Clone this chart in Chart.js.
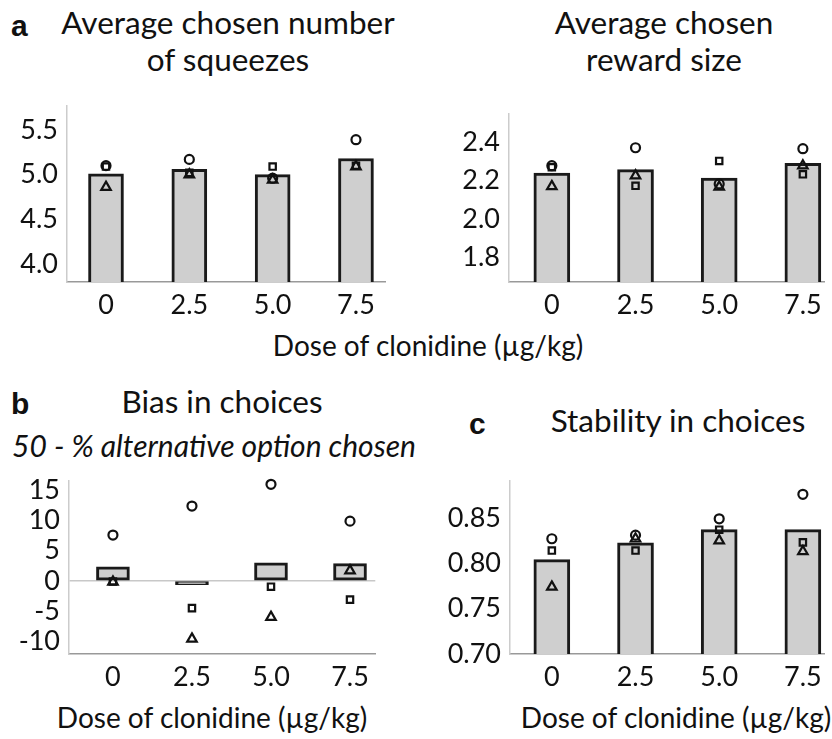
<!DOCTYPE html>
<html>
<head>
<meta charset="utf-8">
<script src="https://cdn.jsdelivr.net/npm/chart.js@4.4.1/dist/chart.umd.min.js"></script>
<style>
  body { margin: 0; background: #fff; }
  #fig { position: relative; width: 832px; height: 739px; overflow: hidden; font-family: Lato, sans-serif; color: #111; }
  canvas { position: absolute; }
  .t { position: absolute; white-space: nowrap; transform: translateX(-50%); text-align: center; font-size: 31.5px; line-height: 37px; }
  .lab { position: absolute; font-size: 28px; line-height: 30px; white-space: nowrap; transform: translateX(-50%); }
  .letter { position: absolute; font-family: 'Liberation Sans', Arial, sans-serif; font-weight: bold; font-size: 30px; line-height: 30px; }
</style>
</head>
<body>
<div id="fig">
  <canvas id="squeeze" width="393" height="229" style="left:0;top:98px"></canvas>
  <canvas id="reward" width="412" height="221" style="left:420px;top:106px"></canvas>
  <canvas id="bias" width="383" height="226" style="left:0;top:473px"></canvas>
  <canvas id="stability" width="412" height="226" style="left:420px;top:473px"></canvas>

  <div class="letter" style="left:11px;top:11px">a</div>
  <div class="t" style="left:228px;top:4px">Average chosen number<br>of squeezes</div>
  <div class="t" style="left:664px;top:4px">Average chosen<br>reward size</div>
  <div class="lab" style="left:428px;top:330px">Dose of clonidine (µg/kg)</div>

  <div class="letter" style="left:11px;top:389px">b</div>
  <div class="t" style="left:222px;top:383px">Bias in choices</div>
  <div class="t" style="left:214px;top:427px;font-style:italic;font-size:30px">50 - % alternative option chosen</div>
  <div class="lab" style="left:212px;top:702px">Dose of clonidine (µg/kg)</div>

  <div class="letter" style="left:469px;top:409px">c</div>
  <div class="t" style="left:678px;top:402px">Stability in choices</div>
  <div class="lab" style="left:676px;top:702px">Dose of clonidine (µg/kg)</div>
</div>

<script>
// doses on the x axis
const doses = [0, 2.5, 5.0, 7.5];
const doseLabels = ['0', '2.5', '5.0', '7.5'];

// a: average chosen number of squeezes (bar = mean, markers = three monkeys)
const squeezeMean = [5.01, 5.06, 5.00, 5.18];
const squeezeCircle = [5.10, 5.17, 4.96, 5.39];
const squeezeSquare = [5.09, 5.02, 5.09, 5.10];
const squeezeTriangle = [4.86, 5.00, 4.94, 5.09];
const squeezeTicks = [4.0, 4.5, 5.0, 5.5];

// a: average chosen reward size
const rewardMean = [2.24, 2.258, 2.213, 2.29];
const rewardCircle = [2.278, 2.372, 2.183, 2.367];
const rewardSquare = [2.27, 2.173, 2.303, 2.233];
const rewardTriangle = [2.17, 2.226, 2.167, 2.278];
const rewardTicks = [1.8, 2.0, 2.2, 2.4];

// b: bias in choices
const biasMean = [2.33, -0.6, 3.0, 2.86];
const biasCircle = [7.6, 12.4, 16.0, 9.9];
const biasSquare = [-0.1, -4.5, -0.95, -3.1];
const biasTriangle = [-0.15, -9.6, -6.0, 1.7];
const biasTicks = [-10, -5, 0, 5, 10, 15];

// c: stability in choices
const stabilityMean = [0.804, 0.8225, 0.837, 0.837];
const stabilityCircle = [0.827, 0.831, 0.849, 0.876];
const stabilitySquare = [0.814, 0.814, 0.837, 0.823];
const stabilityTriangle = [0.774, 0.827, 0.825, 0.813];
const stabilityTicks = [0.70, 0.75, 0.80, 0.85];

const tickFont = { family: 'Lato', size: 27 };

// turn one series into {x, y} points at the doses
function points(values) {
    return doses.map((d, i) => ({ x: d, y: values[i] }));
}

function markerSet(values, style) {
    return {
        type: 'line',
        data: points(values),
        showLine: false,
        pointStyle: style,
        pointRadius: style === 'triangle' ? 5.5 : 4.5,
        pointBorderWidth: 2.2,
        pointBorderColor: '#111',
        pointBackgroundColor: 'rgba(0,0,0,0)',
        clip: false,
        order: 0
    };
}

function drawPanel(id, p) {
    const ctx = document.getElementById(id).getContext('2d');
    new Chart(ctx, {
        type: 'bar',
        data: {
            datasets: [
                {
                    data: points(p.mean),
                    backgroundColor: '#cfcfcf',
                    borderColor: '#1a1a1a',
                    borderWidth: 3,
                    borderSkipped: false,
                    barThickness: p.barW,
                    order: 1
                },
                markerSet(p.circle, 'circle'),
                markerSet(p.square, 'rect'),
                markerSet(p.triangle, 'triangle')
            ]
        },
        options: {
            responsive: false,
            animation: false,
            events: [],
            layout: { padding: 0 },
            plugins: { legend: { display: false }, tooltip: { enabled: false } },
            scales: {
                x: {
                    type: 'linear',
                    min: p.xMin,
                    max: p.xMax,
                    offset: false,
                    afterBuildTicks: s => { s.ticks = doses.map(v => ({ value: v })); },
                    afterFit: s => { s.height = 45; s.paddingLeft = 0; s.paddingRight = 0; },
                    ticks: {
                        autoSkip: false,
                        maxRotation: 0,
                        padding: 7,
                        font: tickFont,
                        color: '#111',
                        callback: v => doseLabels[doses.indexOf(v)]
                    },
                    grid: { color: 'rgba(0,0,0,0)', drawTicks: false, offset: false },
                    border: { color: '#999', width: 1.5 }
                },
                y: {
                    min: p.yMin,
                    max: p.yMax,
                    afterBuildTicks: s => { s.ticks = p.yTicks.map(v => ({ value: v })); },
                    afterFit: s => { s.width = p.yAxisW; s.paddingTop = 0; s.paddingBottom = 0; },
                    ticks: {
                        autoSkip: false,
                        padding: 9,
                        font: tickFont,
                        color: '#111',
                        callback: v => v.toFixed(p.dec)
                    },
                    grid: {
                        drawTicks: false,
                        lineWidth: 1.5,
                        color: c => (p.zeroLine && c.tick && c.tick.value === 0) ? '#c8c8c8' : 'rgba(0,0,0,0)'
                    },
                    border: { color: '#cccccc', width: 1.5 }
                }
            }
        }
    });
}

drawPanel('squeeze', {
    mean: squeezeMean, circle: squeezeCircle, square: squeezeSquare, triangle: squeezeTriangle,
    yTicks: squeezeTicks, yMin: 3.8, yMax: 5.77, dec: 1,
    xMin: -1.17, xMax: 8.38, yAxisW: 67, barW: 35
});
drawPanel('reward', {
    mean: rewardMean, circle: rewardCircle, square: rewardSquare, triangle: rewardTriangle,
    yTicks: rewardTicks, yMin: 1.67, yMax: 2.55, dec: 1,
    xMin: -1.28, xMax: 8.14, yAxisW: 89, barW: 36
});
drawPanel('bias', {
    mean: biasMean, circle: biasCircle, square: biasSquare, triangle: biasTriangle,
    yTicks: biasTicks, yMin: -12.1, yMax: 16.6, dec: 0, zeroLine: true,
    xMin: -1.39, xMax: 8.3, yAxisW: 69, barW: 33
});
drawPanel('stability', {
    mean: stabilityMean, circle: stabilityCircle, square: stabilitySquare, triangle: stabilityTriangle,
    yTicks: stabilityTicks, yMin: 0.70, yMax: 0.891, dec: 2,
    xMin: -1.25, xMax: 8.14, yAxisW: 90, barW: 36
});
</script>
</body>
</html>
